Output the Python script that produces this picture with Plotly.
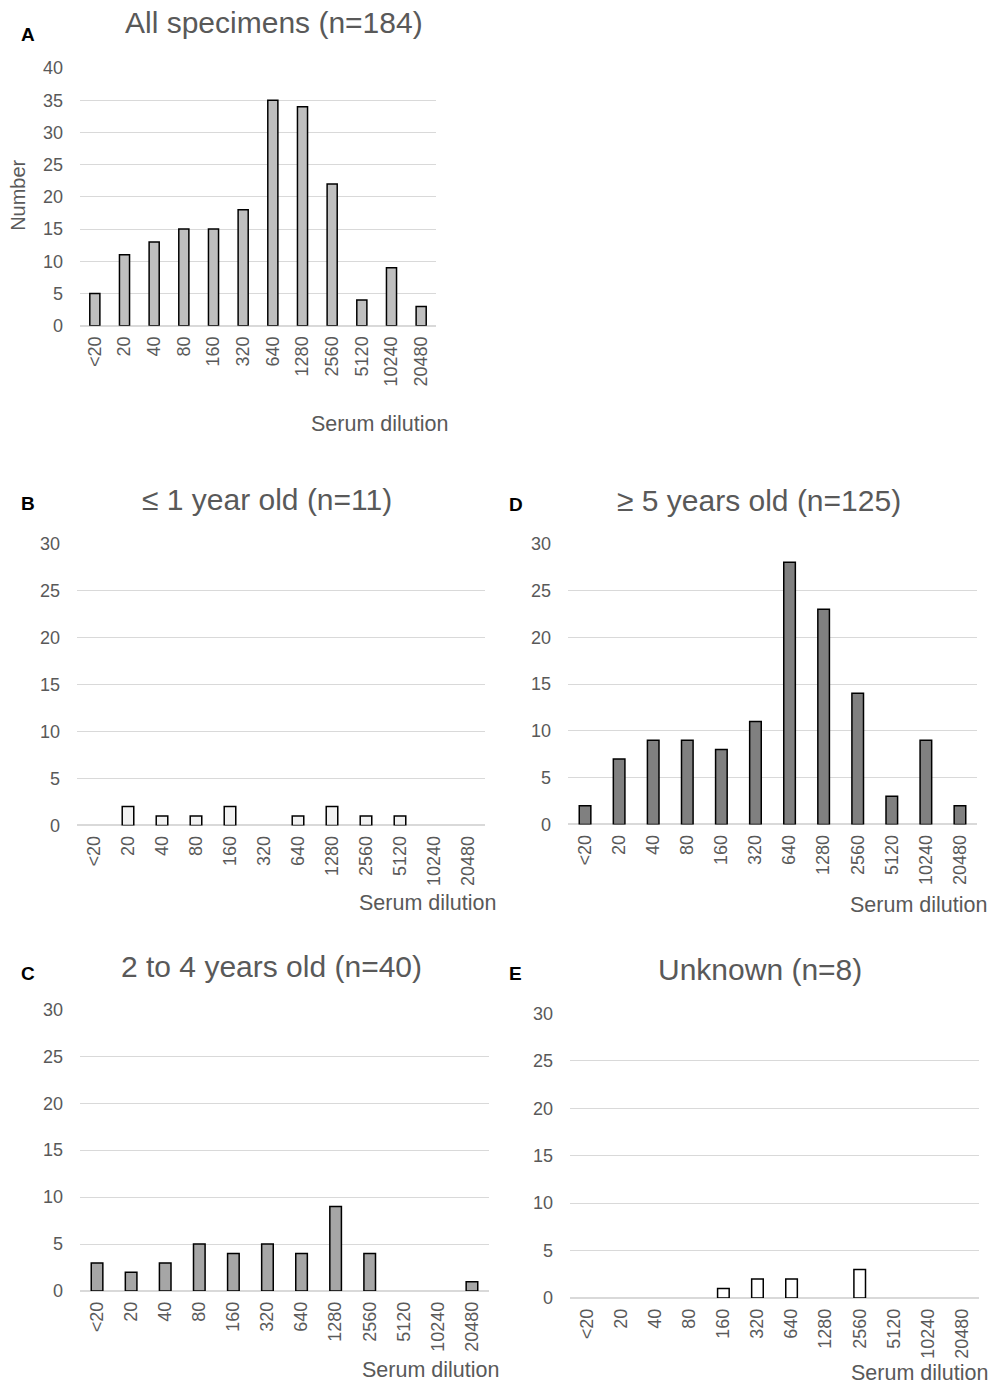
import plotly.graph_objects as go

categories = ["<20", "20", "40", "80", "160", "320", "640", "1280", "2560", "5120", "10240", "20480"]
all_specimens = [5, 11, 13, 15, 15, 18, 35, 34, 22, 4, 9, 3]
age_le1 = [0, 2, 1, 1, 2, 0, 1, 2, 1, 1, 0, 0]
age_ge5 = [2, 7, 9, 9, 8, 11, 28, 23, 14, 3, 9, 2]
age_2to4 = [3, 2, 3, 5, 4, 5, 4, 9, 4, 0, 0, 1]
unknown = [0, 0, 0, 0, 1, 2, 2, 0, 3, 0, 0, 0]

W, H = 989, 1386
FONT = "Liberation Sans, Arial, sans-serif"
TXT = "#595959"
GRID = "#d9d9d9"

def px(x):
    return x / W

def py(y):
    # paper fraction for a target pixel row (calibrated to the rendered page)
    return 1 - (y - 9) / 1367

panels = [
    dict(vals=all_specimens, color="#bfbfbf", title="All specimens (n=184)", letter="A",
         x=(80, 436), y=(325, 67), ymax=40, tpos=(274, 22), lpos=(28, 34), xt=(379, 423)),
    dict(vals=age_le1, color="#f2f2f2", title="\u2264 1 year old (n=11)", letter="B",
         x=(77, 485), y=(825, 543), ymax=30, tpos=(267, 499), lpos=(28, 503), xt=(427, 903)),
    dict(vals=age_ge5, color="#808080", title="\u2265 5 years old (n=125)", letter="D",
         x=(568, 977), y=(824, 543), ymax=30, tpos=(759, 500), lpos=(516, 504), xt=(918, 905)),
    dict(vals=age_2to4, color="#a6a6a6", title="2 to 4 years old (n=40)", letter="C",
         x=(80, 489), y=(1291, 1009), ymax=30, tpos=(271, 966), lpos=(28, 973), xt=(430, 1370)),
    dict(vals=unknown, color="#ffffff", title="Unknown (n=8)", letter="E",
         x=(570, 979), y=(1298, 1013), ymax=30, tpos=(760, 969), lpos=(515, 973), xt=(919, 1373)),
]

fig = go.Figure()
layout = dict(
    width=W, height=H, margin=dict(l=0, r=0, t=0, b=0),
    paper_bgcolor="white", plot_bgcolor="white", showlegend=False,
    font=dict(family=FONT, color=TXT), bargap=0.66,
)
annotations = []

for i, p in enumerate(panels):
    n = "" if i == 0 else str(i + 1)
    xa, ya = "x" + n, "y" + n
    fig.add_trace(go.Bar(
        x=categories, y=[v if v != 0 else None for v in p["vals"]],
        xaxis=xa, yaxis=ya,
        marker=dict(color=p["color"], line=dict(color="black", width=1.5)),
        hoverinfo="x+y",
    ))
    layout["xaxis" + n] = dict(
        domain=[px(p["x"][0]), px(p["x"][1])], anchor=ya,
        type="category", categoryorder="array", categoryarray=categories,
        range=[-0.5, 11.5], tickangle=-90, showgrid=False, showline=False,
        ticks="", tickfont=dict(size=18, color=TXT, family=FONT), ticklabelstandoff=6,
    )
    layout["yaxis" + n] = dict(
        domain=[py(p["y"][0]), py(p["y"][1])], anchor=xa,
        range=[0, p["ymax"]], dtick=5, showgrid=True, gridcolor=GRID, gridwidth=1,
        zeroline=True, zerolinecolor=GRID, zerolinewidth=1.5, showline=False,
        ticks="", tickfont=dict(size=18, color=TXT, family=FONT), ticklabelstandoff=16,
    )
    annotations.append(dict(text=p["title"], x=px(p["tpos"][0]), y=py(p["tpos"][1]),
                            xref="paper", yref="paper", showarrow=False,
                            xanchor="center", yanchor="middle",
                            font=dict(size=30, color=TXT, family=FONT)))
    annotations.append(dict(text="<b>" + p["letter"] + "</b>", x=px(p["lpos"][0]), y=py(p["lpos"][1]),
                            xref="paper", yref="paper", showarrow=False,
                            xanchor="center", yanchor="middle",
                            font=dict(size=19, color="black", family=FONT)))
    annotations.append(dict(text="Serum dilution", x=px(p["xt"][0]), y=py(p["xt"][1]),
                            xref="paper", yref="paper", showarrow=False,
                            xanchor="center", yanchor="middle",
                            font=dict(size=21.5, color=TXT, family=FONT)))

annotations.append(dict(text="Number", x=px(18), y=py(195), xref="paper", yref="paper",
                        showarrow=False, textangle=-90, xanchor="center", yanchor="middle",
                        font=dict(size=20, color=TXT, family=FONT)))
layout["annotations"] = annotations
fig.update_layout(**layout)
fig.write_html("out.html", config={"displayModeBar": False},
               post_script="document.body.style.margin='0';")
